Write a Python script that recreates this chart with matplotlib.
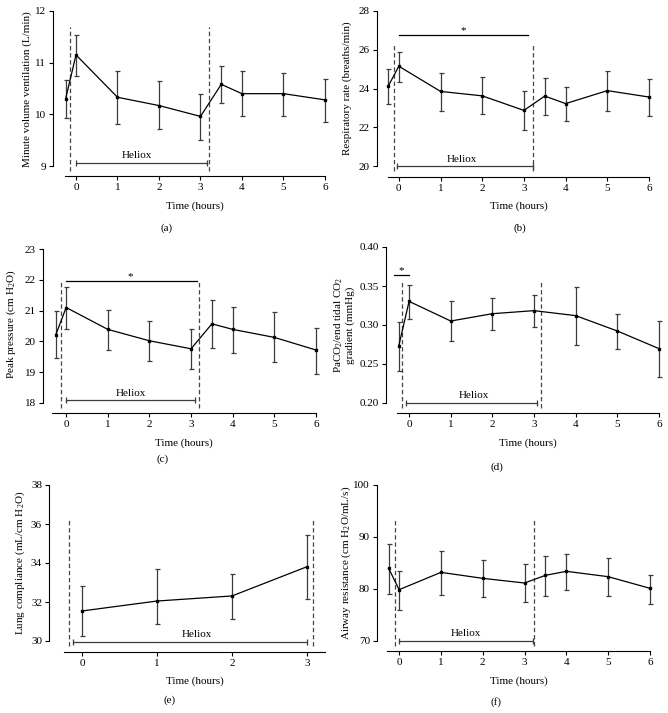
import matplotlib
matplotlib.use('Agg')
import matplotlib.pyplot as plt

plt.rcParams['font.family'] = ['Liberation Serif', 'DejaVu Serif']
plt.rcParams['mathtext.fontset'] = 'custom'
plt.rcParams['mathtext.rm'] = 'Liberation Serif'
plt.rcParams['mathtext.it'] = 'Liberation Serif:italic'

# ---------------- data ----------------
time_full = [-0.25, 0, 1, 2, 3, 3.5, 4, 5, 6]
time_d = [-0.25, 0, 1, 2, 3, 4, 5, 6]
time_e = [0, 1, 2, 3]

mv_mean = [10.30, 11.15, 10.33, 10.17, 9.96, 10.58, 10.40, 10.40, 10.28]
mv_lo = [9.92, 10.75, 9.82, 9.71, 9.51, 10.21, 9.96, 9.97, 9.85]
mv_hi = [10.66, 11.54, 10.84, 10.64, 10.39, 10.94, 10.83, 10.80, 10.69]

rr_mean = [24.14, 25.15, 23.85, 23.62, 22.87, 23.61, 23.22, 23.89, 23.56]
rr_lo = [23.21, 24.36, 22.85, 22.66, 21.86, 22.65, 22.34, 22.86, 22.58]
rr_hi = [25.03, 25.89, 24.80, 24.60, 23.89, 24.52, 24.06, 24.90, 24.51]

pp_mean = [20.21, 21.10, 20.39, 20.02, 19.76, 20.57, 20.39, 20.13, 19.72]
pp_lo = [19.45, 20.41, 19.72, 19.37, 19.09, 19.79, 19.61, 19.32, 18.95]
pp_hi = [20.98, 21.76, 21.03, 20.65, 20.41, 21.33, 21.12, 20.94, 20.45]

pc_mean = [0.2726, 0.3303, 0.3051, 0.3145, 0.3184, 0.3120, 0.2923, 0.2697]
pc_lo = [0.2406, 0.3077, 0.2791, 0.2932, 0.2974, 0.2744, 0.2692, 0.2338]
pc_hi = [0.3034, 0.3513, 0.3308, 0.3346, 0.3380, 0.3487, 0.3145, 0.3051]

lc_mean = [31.54, 32.05, 32.31, 33.81]
lc_lo = [30.26, 30.87, 31.11, 32.15]
lc_hi = [32.84, 33.71, 33.45, 35.44]

ar_mean = [83.97, 79.87, 83.20, 82.05, 81.15, 82.63, 83.40, 82.37, 80.13]
ar_lo = [78.97, 76.03, 78.90, 78.40, 77.50, 78.72, 79.87, 78.59, 77.18]
ar_hi = [88.72, 83.46, 87.30, 85.58, 84.74, 86.35, 86.73, 85.96, 82.76]

xticks_full = [0, 1, 2, 3, 4, 5, 6]
xticks_e = [0, 1, 2, 3]
xlabel = 'Time (hours)'
heliox_label = 'Heliox'

# ---------------- figure ----------------
W, H = 668, 713
fig = plt.figure(figsize=(W / 100, H / 100), dpi=100)
FS = 8
GREY = '#3c3c3c'


def px2pt(p):
    return p * 72 / 100


def make_panel(box, xlim, ylim, yticks, ytickfmt, xticks, off_l, off_b,
               t, m, lo, hi, ylabel, ylabel_xy, xlabel_y, tag, tag_xy,
               dashes, dash_top, heliox, heliox_text, star=None):
    x0, x1, yt, yb = box
    ax = fig.add_axes([x0 / W, 1 - yb / H, (x1 - x0) / W, (yb - yt) / H])
    ax.set_xlim(*xlim)
    ax.set_ylim(*ylim)
    for s in ['top', 'right']:
        ax.spines[s].set_visible(False)
    ax.spines['left'].set_position(('outward', px2pt(off_l)))
    ax.spines['bottom'].set_position(('outward', px2pt(off_b)))
    for s in ['left', 'bottom']:
        ax.spines[s].set_linewidth(0.8)
    ax.set_xticks(xticks)
    ax.set_yticks(yticks)
    ax.set_yticklabels([ytickfmt.format(v) for v in yticks])
    ax.tick_params(direction='out', length=3, width=0.8, labelsize=FS, pad=2)
    ax.patch.set_visible(False)

    yerr = [[mi - l for mi, l in zip(m, lo)], [h - mi for mi, h in zip(m, hi)]]
    ax.errorbar(t, m, yerr=yerr, fmt='none', ecolor=GREY, elinewidth=0.9,
                capsize=1.8, capthick=0.9, clip_on=False, zorder=2)
    ax.plot(t, m, color='black', lw=0.9, marker='s', ms=2.0, clip_on=False, zorder=3)

    ybot = ylim[0] - (ylim[1] - ylim[0]) * 0.035
    for xd in dashes:
        ax.plot([xd, xd], [ybot, dash_top], color='#444444', lw=0.9,
                ls=(0, (3.5, 2.2)), clip_on=False, zorder=1)

    hx0, hx1, hy = heliox
    ax.plot([hx0, hx1], [hy, hy], color=GREY, lw=0.9, clip_on=False)
    ax.plot([hx0, hx1], [hy, hy], ls='none', marker='|', ms=4.5, mew=0.9,
            color=GREY, clip_on=False)
    tx, ty = heliox_text
    ax.text(tx, ty, heliox_label, fontsize=FS, ha='center', va='bottom')

    if star is not None:
        sx0, sx1, sy, stx = star
        ax.plot([sx0, sx1], [sy, sy], color='black', lw=0.9, clip_on=False)
        ax.text(stx, sy, '*', fontsize=FS, ha='center', va='bottom')

    fig.text(ylabel_xy[0] / W, 1 - ylabel_xy[1] / H, ylabel, rotation=90,
             ha='center', va='center', fontsize=FS, linespacing=1.1)
    fig.text((x0 + x1) / 2 / W, 1 - xlabel_y / H, xlabel, ha='center',
             va='center', fontsize=FS)
    fig.text(tag_xy[0] / W, 1 - tag_xy[1] / H, tag, ha='center', va='center',
             fontsize=FS)
    return ax


# (a)
make_panel((65, 325, 11, 166), (-0.265, 6), (9, 12), [9, 10, 11, 12], '{:g}',
           xticks_full, 12, 10, time_full, mv_mean, mv_lo, mv_hi,
           'Minute volume ventilation (L/min)', (27, 89), 206, '(a)', (167, 228),
           [-0.145, 3.21], 11.70, (0, 3.15, 9.06), (1.47, 9.12))

# (b)
make_panel((388, 649, 11, 166), (-0.26, 6), (20, 28), [20, 22, 24, 26, 28], '{:g}',
           xticks_full, 11, 11, time_full, rr_mean, rr_lo, rr_hi,
           'Respiratory rate (breaths/min)', (347, 88), 206, '(b)', (520, 228),
           [-0.11, 3.22], 26.3, (-0.04, 3.22, 20.0), (1.52, 20.12),
           star=(0, 3.1, 26.76, 1.54))

# (c)
make_panel((52, 316, 249, 403), (-0.34, 6), (18, 23), [18, 19, 20, 21, 22, 23], '{:g}',
           xticks_full, 9, 10, time_full, pp_mean, pp_lo, pp_hi,
           'Peak pressure (cm H$_2$O)', (11, 324), 443, '(c)', (163, 459),
           [-0.12, 3.19], 21.95, (0, 3.1, 18.09), (1.55, 18.16),
           star=(0, 3.15, 21.95, 1.55))

# (d)
make_panel((397, 659, 247, 403), (-0.29, 6), (0.2, 0.4), [0.20, 0.25, 0.30, 0.35, 0.40],
           '{:.2f}', xticks_full, 11, 10, time_d, pc_mean, pc_lo, pc_hi,
           'PaCO$_2$/end tidal CO$_2$\ngradient (mmHg)', (344, 325), 443, '(d)', (497, 467),
           [-0.17, 3.17], 0.355, (-0.07, 3.08, 0.2), (1.55, 0.204),
           star=(-0.36, 0.0, 0.3645, -0.19))

# (e)
make_panel((64, 325, 485, 641), (-0.24, 3.24), (30, 38), [30, 32, 34, 36, 38], '{:g}',
           xticks_e, 15, 11, time_e, lc_mean, lc_lo, lc_hi,
           'Lung compliance (mL/cm H$_2$O)', (20, 563), 681, '(e)', (170, 700),
           [-0.17, 3.08], 36.24, (-0.12, 3.0, 29.95), (1.53, 30.08))

# (f)
make_panel((387, 650, 485, 641), (-0.29, 6), (70, 100), [70, 80, 90, 100], '{:g}',
           xticks_full, 10, 10, time_full, ar_mean, ar_lo, ar_hi,
           'Airway resistance (cm H$_2$O/mL/s)', (346, 563), 681, '(f)', (496, 702),
           [-0.11, 3.22], 93.5, (0, 3.2, 70.06), (1.6, 70.5))

fig.savefig('out.png', dpi=100)
